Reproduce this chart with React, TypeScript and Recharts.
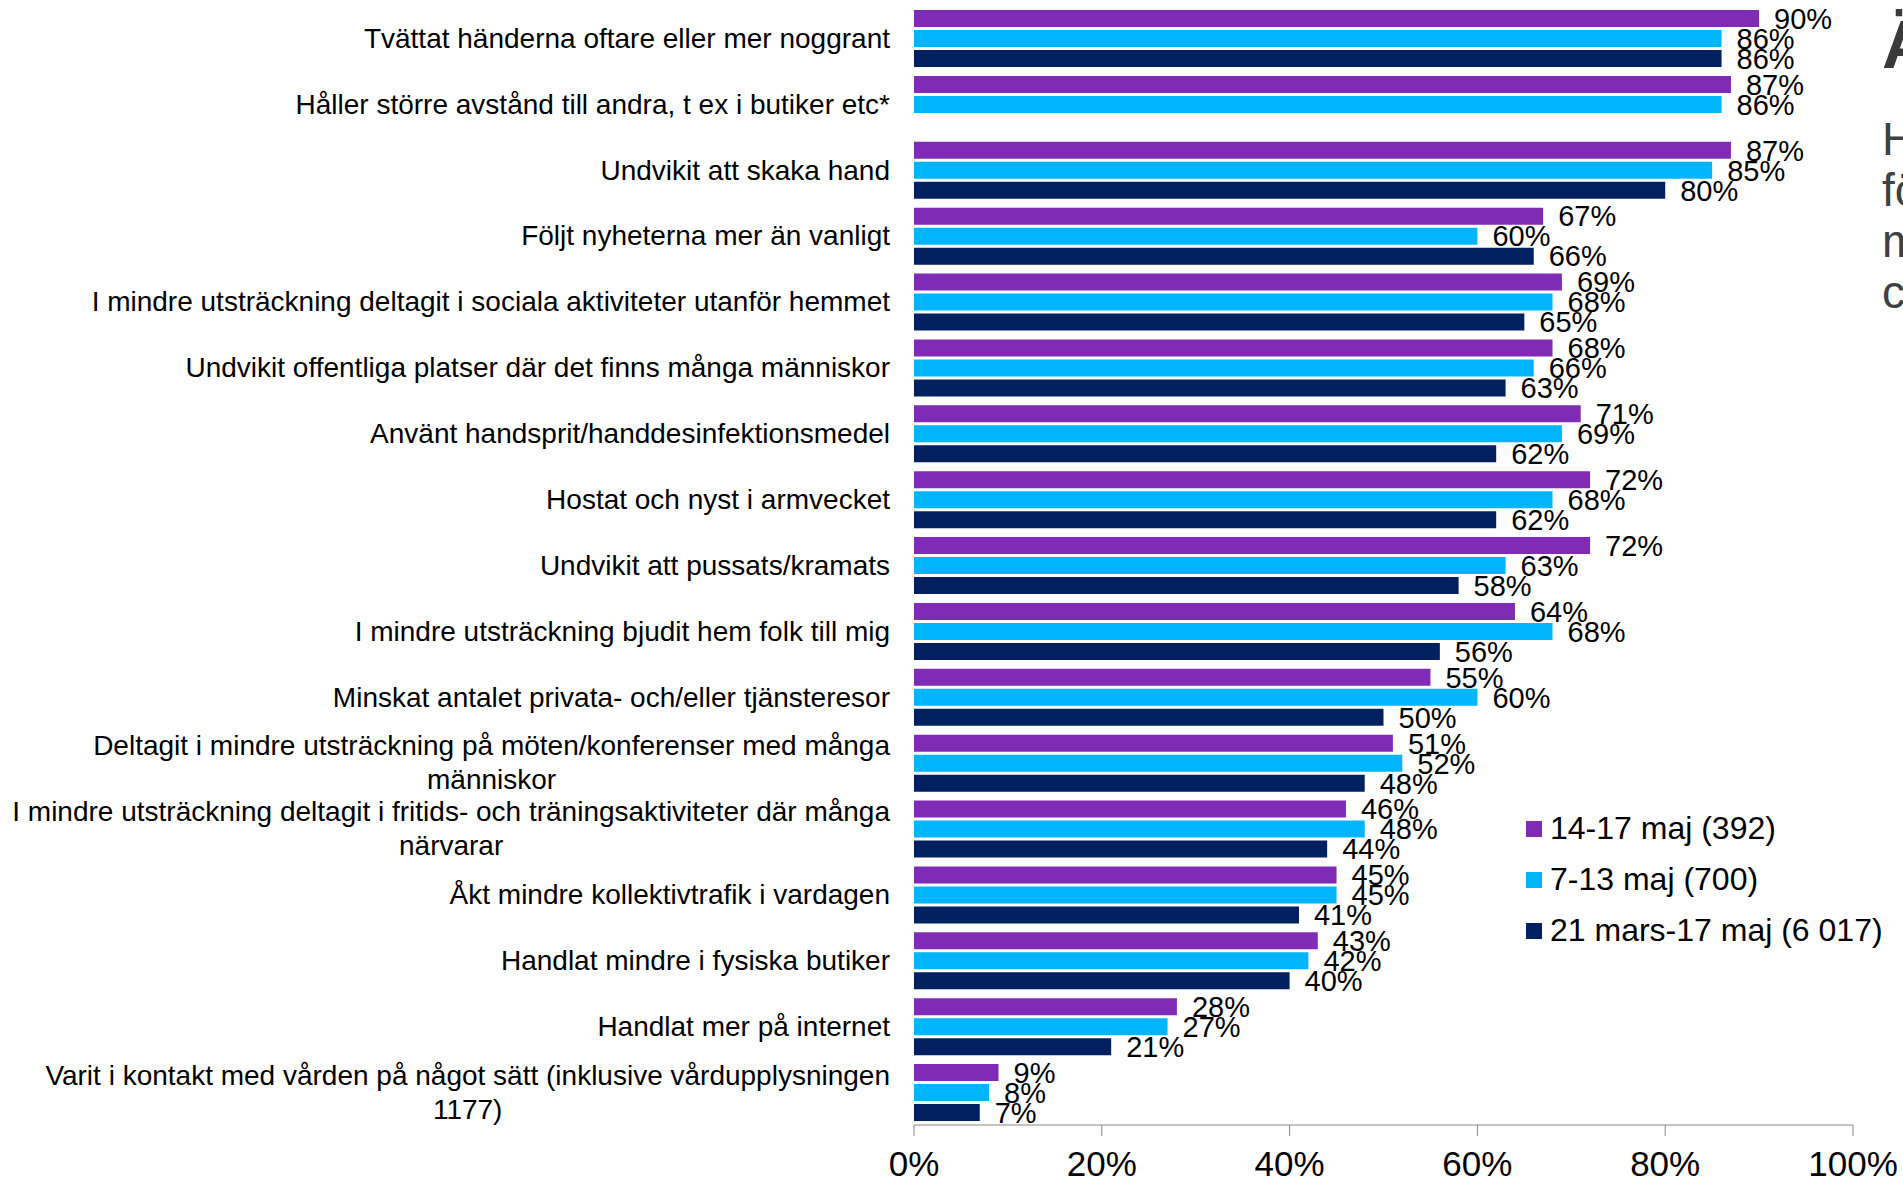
import React from "react"
import { BarChart, Bar, XAxis, YAxis, LabelList, Legend } from "recharts"

const categories = [
  "Tvättat händerna oftare eller mer noggrant",
  "Håller större avstånd till andra, t ex i butiker etc*",
  "Undvikit att skaka hand",
  "Följt nyheterna mer än vanligt",
  "I mindre utsträckning deltagit i sociala aktiviteter utanför hemmet",
  "Undvikit offentliga platser där det finns många människor",
  "Använt handsprit/handdesinfektionsmedel",
  "Hostat och nyst i armvecket",
  "Undvikit att pussats/kramats",
  "I mindre utsträckning bjudit hem folk till mig",
  "Minskat antalet privata- och/eller tjänsteresor",
  "Deltagit i mindre utsträckning på möten/konferenser med många människor",
  "I mindre utsträckning deltagit i fritids- och träningsaktiviteter där många närvarar",
  "Åkt mindre kollektivtrafik i vardagen",
  "Handlat mindre i fysiska butiker",
  "Handlat mer på internet",
  "Varit i kontakt med vården på något sätt (inklusive vårdupplysningen 1177)",
]

const may14to17 = [90, 87, 87, 67, 69, 68, 71, 72, 72, 64, 55, 51, 46, 45, 43, 28, 9]
const may7to13 = [86, 86, 85, 60, 68, 66, 69, 68, 63, 68, 60, 52, 48, 45, 42, 27, 8]
const mar21toMay17 = [86, null, 80, 66, 65, 63, 62, 62, 58, 56, 50, 48, 44, 41, 40, 21, 7]

const seriesNames = ["14-17 maj (392)", "7-13 maj (700)", "21 mars-17 maj (6 017)"]
const xTicks = [0, 20, 40, 60, 80, 100]

const titleText = "Ändrade beteenden"
const bodyLines = ["Har du gjort något av", "följande för att", "minska risken för", "coronasmitta?"]

const COLORS = ["#7F2BB6", "#00B5FC", "#00205F"]
const FONT = "Arial, 'Liberation Sans', sans-serif"

const data = categories.map((name, i) => ({
  name,
  a: may14to17[i],
  b: may7to13[i],
  c: mar21toMay17[i],
}))

let ctx: CanvasRenderingContext2D | null = null
function measure(s: string, size: number) {
  if (!ctx) ctx = document.createElement("canvas").getContext("2d")
  if (!ctx) return s.length * size * 0.5
  ctx.font = `${size}px 'Liberation Sans', Arial, sans-serif`
  return ctx.measureText(s).width
}

function wrap(text: string, maxW: number, size: number) {
  const words = text.split(" ")
  const lines: string[] = []
  let cur = ""
  words.forEach((w) => {
    const next = cur ? cur + " " + w : w
    if (cur && measure(next, size) > maxW) {
      lines.push(cur)
      cur = w
    } else {
      cur = next
    }
  })
  if (cur) lines.push(cur)
  return lines
}

function CategoryTick(props: any) {
  const { x, y, payload } = props
  const size = 28
  const lines = wrap(payload.value, 885, size)
  const w = Math.max(...lines.map((l) => measure(l, size)))
  const lh = 34
  const y0 = y - ((lines.length - 1) * lh) / 2
  return (
    <g>
      {lines.map((l, i) => (
        <text
          key={i}
          x={x - w / 2}
          y={y0 + i * lh}
          dy="0.35em"
          textAnchor="middle"
          fill="#000"
          fontSize={size}
          fontFamily={FONT}
        >
          {l}
        </text>
      ))}
    </g>
  )
}

// legend drawn in series order (recharts 3 sorts payload by name otherwise)
function LegendContent() {
  return (
    <div style={{ fontFamily: FONT, fontSize: 32, color: "#000" }}>
      {seriesNames.map((name, i) => (
        <div key={name} style={{ display: "flex", alignItems: "center", height: 51 }}>
          <span style={{ width: 16, height: 16, background: COLORS[i], marginRight: 8, display: "inline-block" }} />
          <span>{name}</span>
        </div>
      ))}
    </div>
  )
}

const pct = (v: any) => (v == null ? "" : `${v}%`)

export default function App() {
  return (
    <div style={{ position: "absolute", left: 0, top: 0, width: 1903, height: 1188, overflow: "hidden", background: "#fff" }}>
      <BarChart
        width={1903}
        height={1188}
        data={data}
        layout="vertical"
        margin={{ top: 5, right: 50, bottom: 0, left: 0 }}
        barCategoryGap={5}
        barGap={3}
      >
        <XAxis
          type="number"
          domain={[0, 100]}
          ticks={xTicks}
          tickFormatter={(v) => `${v}%`}
          height={63}
          axisLine={{ stroke: "#888888" }}
          tickLine={{ stroke: "#888888" }}
          tickSize={11}
          tickMargin={15}
          tick={{ fill: "#000", fontSize: 35, fontFamily: FONT }}
        />
        <YAxis
          type="category"
          dataKey="name"
          width={914}
          axisLine={false}
          tickLine={false}
          tickSize={0}
          tickMargin={24}
          interval={0}
          tick={<CategoryTick />}
        />
        <Legend
          layout="vertical"
          align="center"
          verticalAlign="middle"
          wrapperStyle={{ left: 1526, top: 803, width: "auto" }}
          content={<LegendContent />}
        />
        <Bar dataKey="a" name={seriesNames[0]} fill={COLORS[0]} isAnimationActive={false}>
          <LabelList dataKey="a" position="right" offset={15} formatter={pct} fill="#000" fontSize={29} fontFamily={FONT} />
        </Bar>
        <Bar dataKey="b" name={seriesNames[1]} fill={COLORS[1]} isAnimationActive={false}>
          <LabelList dataKey="b" position="right" offset={15} formatter={pct} fill="#000" fontSize={29} fontFamily={FONT} />
        </Bar>
        <Bar dataKey="c" name={seriesNames[2]} fill={COLORS[2]} isAnimationActive={false}>
          <LabelList dataKey="c" position="right" offset={15} formatter={pct} fill="#000" fontSize={29} fontFamily={FONT} />
        </Bar>
      </BarChart>
      <svg width={1903} height={1188} style={{ position: "absolute", left: 0, top: 0, pointerEvents: "none" }}>
        <text x={1882} y={68} fontSize={68} fontWeight="bold" fill="#3a3a3a" fontFamily={FONT}>
          {titleText}
        </text>
        {bodyLines.map((l, i) => (
          <text key={i} x={1882} y={155 + i * 51} fontSize={46} fill="#404040" fontFamily={FONT}>
            {l}
          </text>
        ))}
      </svg>
    </div>
  )
}
